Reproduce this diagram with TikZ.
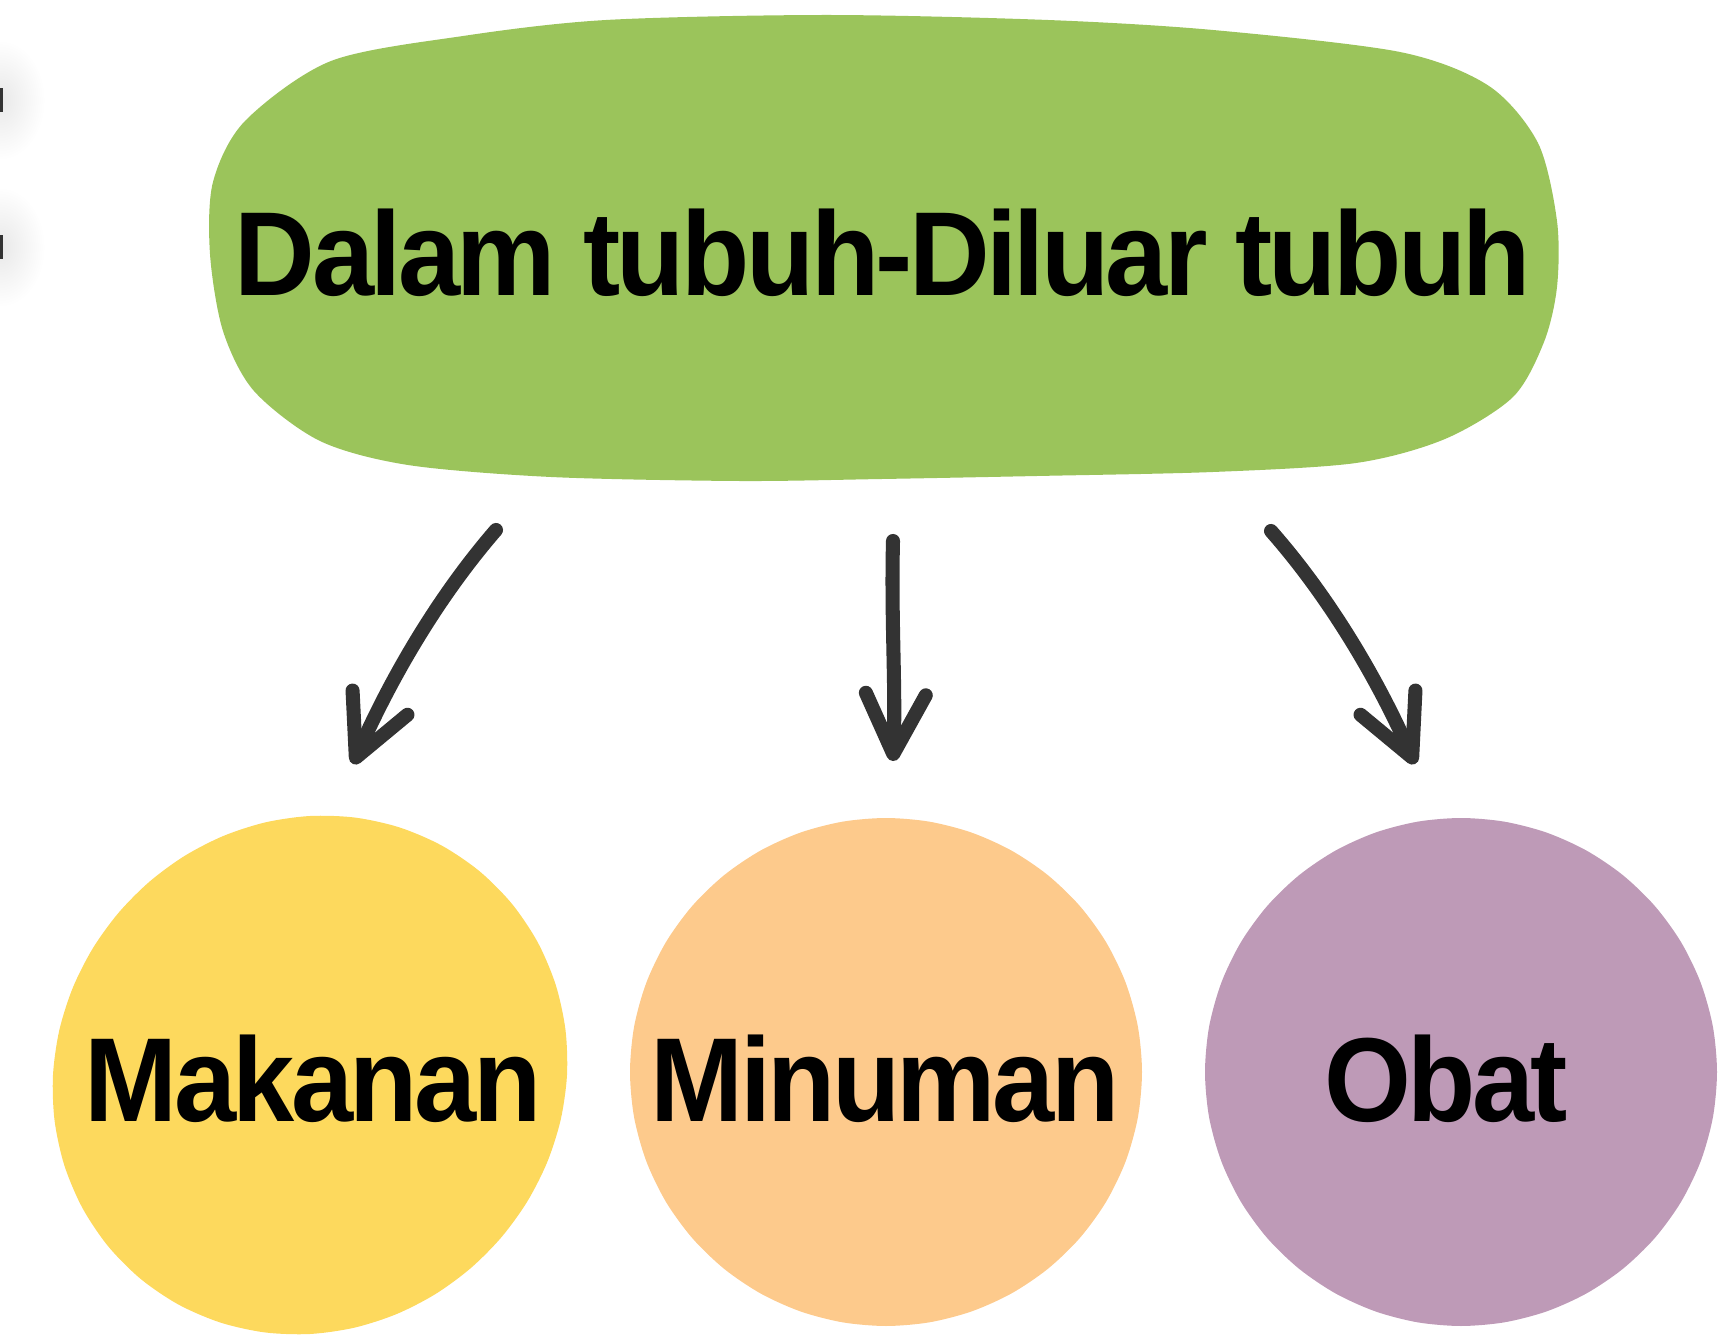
\documentclass[tikz,border=0pt]{standalone}
\usepackage{fontspec}
\setmainfont{Liberation Sans}[LetterSpace=-3,FakeStretch=0.935]
\usetikzlibrary{arrows.meta}
\definecolor{leaf}{HTML}{9BC45B}
\definecolor{sun}{HTML}{FDD95D}
\definecolor{peach}{HTML}{FDCA8C}
\definecolor{plum}{HTML}{BE9AB7}
\definecolor{ink}{HTML}{333333}
\tikzset{
  txt/.style={font=\fontsize{68}{72}\selectfont\bfseries,text=black,anchor=base,inner sep=0pt},
  arr/.style={ink,line width=8pt,line cap=round,-{Straight Barb[length=12mm,width=12mm,round]}}
}
\begin{document}
\begin{tikzpicture}[x=.02cm,y=-.02cm]
  \useasboundingbox (0,0) rectangle (1729,1341);
  % edge marks
  \shade[inner color=black!9,outer color=white] (0,100) ellipse (45 and 60);
  \shade[inner color=black!9,outer color=white] (0,247) ellipse (45 and 60);
  \fill[ink] (0,88) rectangle (3,112);
  \fill[ink] (0,235) rectangle (3,259);
  % blobs
  \fill[leaf] plot[smooth cycle] coordinates {(331,61) (463,36) (606,20) (827,15) (1048,20) (1213,30) (1400,52) (1489,86) (1538,143) (1557,221) (1557,287) (1544,342) (1513,397) (1445,439) (1356,463) (1213,472) (1037,476) (882,479) (739,481) (551,477) (408,465) (320,441) (254,391) (223,331) (210,254) (213,182) (245,121)};
  \fill[sun] plot[domain=0:350,samples=36,smooth cycle] ({310+(257+7*cos(2*\x+90))*cos(\x)},{1075+(259+7*cos(2*\x+90))*sin(\x)});
  \fill[peach] plot[domain=0:350,samples=36,smooth cycle] ({886+(252+4*cos(2*\x))*cos(\x)},{1072+(258+4*cos(2*\x))*sin(\x)});
  \fill[plum] plot[domain=0:350,samples=36,smooth cycle] ({1461+(252+4*cos(2*\x))*cos(\x)},{1072+(258+4*cos(2*\x))*sin(\x)});
  % texts
  \node[txt] (top) at (883,296) {Dalam tubuh-Diluar tubuh};
  \node[txt] (mak) at (313,1121) {Makanan};
  \node[txt] (min) at (885,1121) {Minuman};
  \node[txt] (obat) at (1446,1121) {Obat};
  % arrows
  \coordinate (a1) at (496,530);
  \coordinate (b1) at (353,764);
  \coordinate (a2) at (893,541);
  \coordinate (b2) at (893,761);
  \coordinate (a3) at (1271,531);
  \coordinate (b3) at (1415,764);
  \draw[arr] (a1) .. controls (437,598) and (390,680) .. (b1);
  \draw[arr] (a2) .. controls (891,620) and (896,690) .. (b2);
  \draw[arr] (a3) .. controls (1330,598) and (1378,680) .. (b3);
\end{tikzpicture}
\end{document}
